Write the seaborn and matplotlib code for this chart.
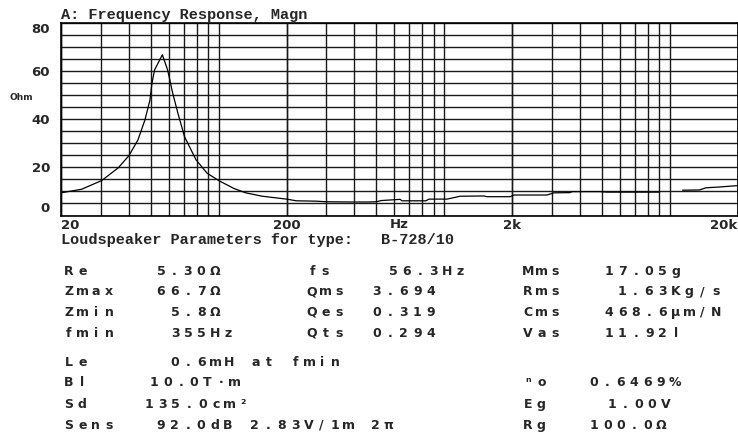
import matplotlib
matplotlib.use("Agg")
import matplotlib.pyplot as plt
import seaborn as sns
import pandas as pd
from matplotlib.ticker import FixedLocator, NullFormatter

# impedance curve (gap between ~9 kHz and ~11.4 kHz)
freq_low = [20, 24.7, 30.3, 35.9, 40, 43.9, 47.1, 49.6, 50.6, 52.0, 56.3, 59.4, 62.6,
            66, 70.6, 79.4, 89, 101, 117, 132, 156, 200, 221, 270, 300, 393, 456,
            500, 526, 638, 650, 830, 857, 1031, 1178, 1504, 1550, 1960, 2042, 2857,
            3070, 3614, 3700, 4900, 5263, 9030]
ohm_low = [9.4, 10.9, 14.5, 19.8, 24.8, 31.4, 39.6, 47.9, 54.8, 60.4, 66.7, 60.4, 50.7,
           42.4, 32.7, 23.1, 17.5, 14.3, 11.2, 9.4, 8.0, 6.8, 6.1, 5.95, 5.7, 5.6, 5.6,
           5.7, 6.2, 6.7, 6.1, 6.1, 6.8, 6.8, 8.0, 8.1, 7.8, 7.8, 8.5, 8.5,
           9.4, 9.5, 9.9, 9.9, 9.7, 9.7]
freq_high = [11420, 13580, 14500, 16480, 20000]
ohm_high = [10.5, 10.6, 11.5, 11.8, 12.4]

x_ticks = [20, 200, 2000, 20000]
x_tick_labels = ["20", "200", "2k", "20k"]
y_ticks = [0, 20, 40, 60, 80]

# parameter table
col1_names = ["Re", "Zmax", "Zmin", "fmin", "Le", "Bl", "Sd", "Sens"]
col1_values = ["5.30Ω", "66.7Ω", "5.8Ω", "355Hz", "0.6mH at fmin", "10.0T·m",
               "135.0cm²", "92.0dB 2.83V/1m 2π"]
col2_names = ["fs", "Qms", "Qes", "Qts"]
col2_values = ["56.3Hz", "3.694", "0.319", "0.294"]
col3_names = ["Mms", "Rms", "Cms", "Vas", "ⁿo", "Eg", "Rg"]
col3_values = ["17.05g", "1.63Kg/s", "468.6µm/N", "11.92l", "0.6469%", "1.00V", "100.0Ω"]

W, H = 738, 437
row_y = [270, 290.5, 311.3, 332, 361, 381.5, 403, 424]
col1_val_x = [157, 157, 171, 171, 171, 150, 145, 157]
col2_val_x = [389, 373, 373, 373]
col3_rows = [0, 1, 2, 3, 5, 6, 7]
col3_val_x = [605, 618, 605, 605, 590, 608, 590]

df = pd.concat([
    pd.DataFrame({"freq": freq_low, "ohm": ohm_low, "seg": 0}),
    pd.DataFrame({"freq": freq_high, "ohm": ohm_high, "seg": 1}),
])

sns.set_style("white")
plt.rcParams["font.family"] = ["DejaVu Sans", "DejaVu Sans Mono"]

fig = plt.figure(figsize=(W / 100, H / 100), dpi=100)
ax = fig.add_axes([61 / W, (H - 215.5) / H, 676.5 / W, 192.8 / H])

sns.lineplot(data=df, x="freq", y="ohm", units="seg", estimator=None,
             color="black", linewidth=0.9, ax=ax)

ax.set_xscale("log")
ax.set_xlim(20, 20000)
ax.set_ylim(0, 80)

# grid: every 1-2-...-9 step on x, every 5 ohm on y
minor_x = [m * 10 ** d for d in range(1, 5) for m in range(1, 10) if 20 <= m * 10 ** d <= 20000]
ax.xaxis.set_minor_locator(FixedLocator(minor_x))
ax.xaxis.set_minor_formatter(NullFormatter())
ax.yaxis.set_minor_locator(FixedLocator(list(range(0, 81, 5))))
ax.xaxis.remove_overlapping_locs = False
ax.grid(which="both", color="#1a1a1a", linewidth=1.0)

ax.set_xticks(x_ticks)
ax.set_xticklabels(x_tick_labels, fontsize=9.5, fontweight="bold")
ax.set_yticks(y_ticks)
ax.set_yticklabels([str(v) for v in y_ticks], fontsize=9.5, fontweight="bold")
ax.tick_params(axis="both", which="both", length=0)
ax.tick_params(axis="x", pad=2.5)
ax.tick_params(axis="y", pad=8)
xl = ax.get_xticklabels()
xl[0].set_ha("left")
xl[-1].set_ha("right")
yl = ax.get_yticklabels()
yl[0].set_va("bottom")
yl[-1].set_va("top")

for s in ax.spines.values():
    s.set_color("black")
    s.set_linewidth(1.2)

ax.set_xlabel("")
ax.set_ylabel("")
ax.set_title("A: Frequency Response, Magn", loc="left", pad=3,
             fontsize=11, fontweight="bold", family=["Liberation Mono", "DejaVu Sans Mono"])
ax.text(630, -0.012, "Hz", transform=ax.get_xaxis_transform(), ha="center", va="top",
        fontsize=9.5, fontweight="bold")
fig.text(10 / W, 1 - 97 / H, "Ohm", ha="left", va="center", fontsize=6.5, fontweight="bold")

fig.text(61 / W, 1 - 240 / H, "Loudspeaker Parameters for type:", fontsize=11,
         fontweight="bold", family=["Liberation Mono", "DejaVu Sans Mono"],
         va="center", ha="left")
fig.text(381 / W, 1 - 240 / H, "B-728/10", fontsize=11, fontweight="bold",
         family=["Liberation Mono", "DejaVu Sans Mono"], va="center", ha="left")

# the table uses a wide fixed pitch, so each character sits in its own cell
PITCH = 13.4


def draw_cells(x, y, s):
    for i, ch in enumerate(s):
        if ch != " ":
            fig.text((x + 4 + i * PITCH) / W, 1 - (y + 4.6) / H, ch, ha="center",
                     va="baseline", fontsize=9, fontweight="bold")


for i, (n, v) in enumerate(zip(col1_names, col1_values)):
    draw_cells(65, row_y[i], n)
    draw_cells(col1_val_x[i], row_y[i], v)
for i, (n, v) in enumerate(zip(col2_names, col2_values)):
    draw_cells(308, row_y[i], n)
    draw_cells(col2_val_x[i], row_y[i], v)
for r, n, v, xv in zip(col3_rows, col3_names, col3_values, col3_val_x):
    draw_cells(524, row_y[r], n)
    draw_cells(xv, row_y[r], v)

fig.savefig("out.png", dpi=100, facecolor="white")
